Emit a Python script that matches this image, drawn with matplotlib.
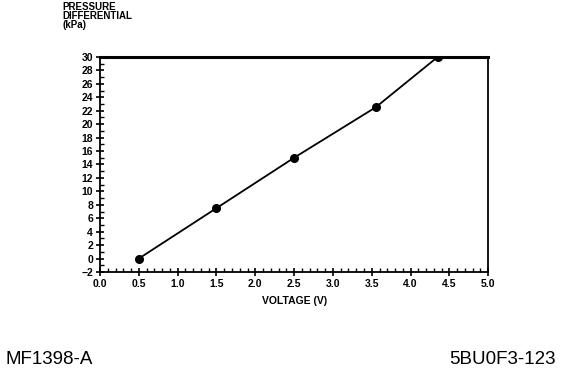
import numpy as np
import matplotlib
matplotlib.use('Agg')
import matplotlib.pyplot as plt
from matplotlib.ticker import MultipleLocator, FormatStrFormatter

plt.rcParams['font.family'] = ['Liberation Sans', 'DejaVu Sans']

# data
voltage = [0.5, 1.5, 2.5, 3.55, 4.35]
pressure = [0.0, 7.5, 15.0, 22.5, 30.0]

xticks = np.arange(0.0, 5.01, 0.5)
yticks = np.arange(-2, 31, 2)

fig = plt.figure(figsize=(5.76, 3.76), dpi=100)
ax = fig.add_axes([0.1736, 0.2766, 0.674, 0.572])

ax.plot(voltage, pressure, color='black', linewidth=1.3, marker='o', markersize=5.5)

ax.set_xlim(0.0, 5.0)
ax.set_ylim(-2, 30)
ax.set_xticks(xticks)
ax.set_yticks(yticks)
ax.xaxis.set_major_formatter(FormatStrFormatter('%.1f'))
ax.xaxis.set_minor_locator(MultipleLocator(0.1))
ax.yaxis.set_minor_locator(MultipleLocator(1))
ax.tick_params(axis='both', which='major', direction='inout', length=6, width=1.2,
               labelsize=7.5, top=False, right=False, pad=2)
ax.tick_params(axis='both', which='minor', direction='in', length=3, width=1.0,
               top=False, right=False)
for lbl in ax.get_xticklabels() + ax.get_yticklabels():
    lbl.set_fontweight('bold')

for side in ['left', 'bottom', 'right']:
    ax.spines[side].set_linewidth(1.3)
ax.spines['top'].set_linewidth(2.2)

ax.set_xlabel('VOLTAGE (V)', fontsize=7.5, fontweight='bold', labelpad=5)
fig.text(0.109, 0.995, 'PRESSURE\nDIFFERENTIAL\n(kPa)', fontsize=7, fontweight='bold',
         ha='left', va='top', linespacing=0.9)

fig.text(0.009, 0.022, 'MF1398-A', fontsize=13.5, ha='left', va='bottom')
fig.text(0.965, 0.022, '5BU0F3-123', fontsize=13.5, ha='right', va='bottom')

fig.savefig('out.png', dpi=100)
